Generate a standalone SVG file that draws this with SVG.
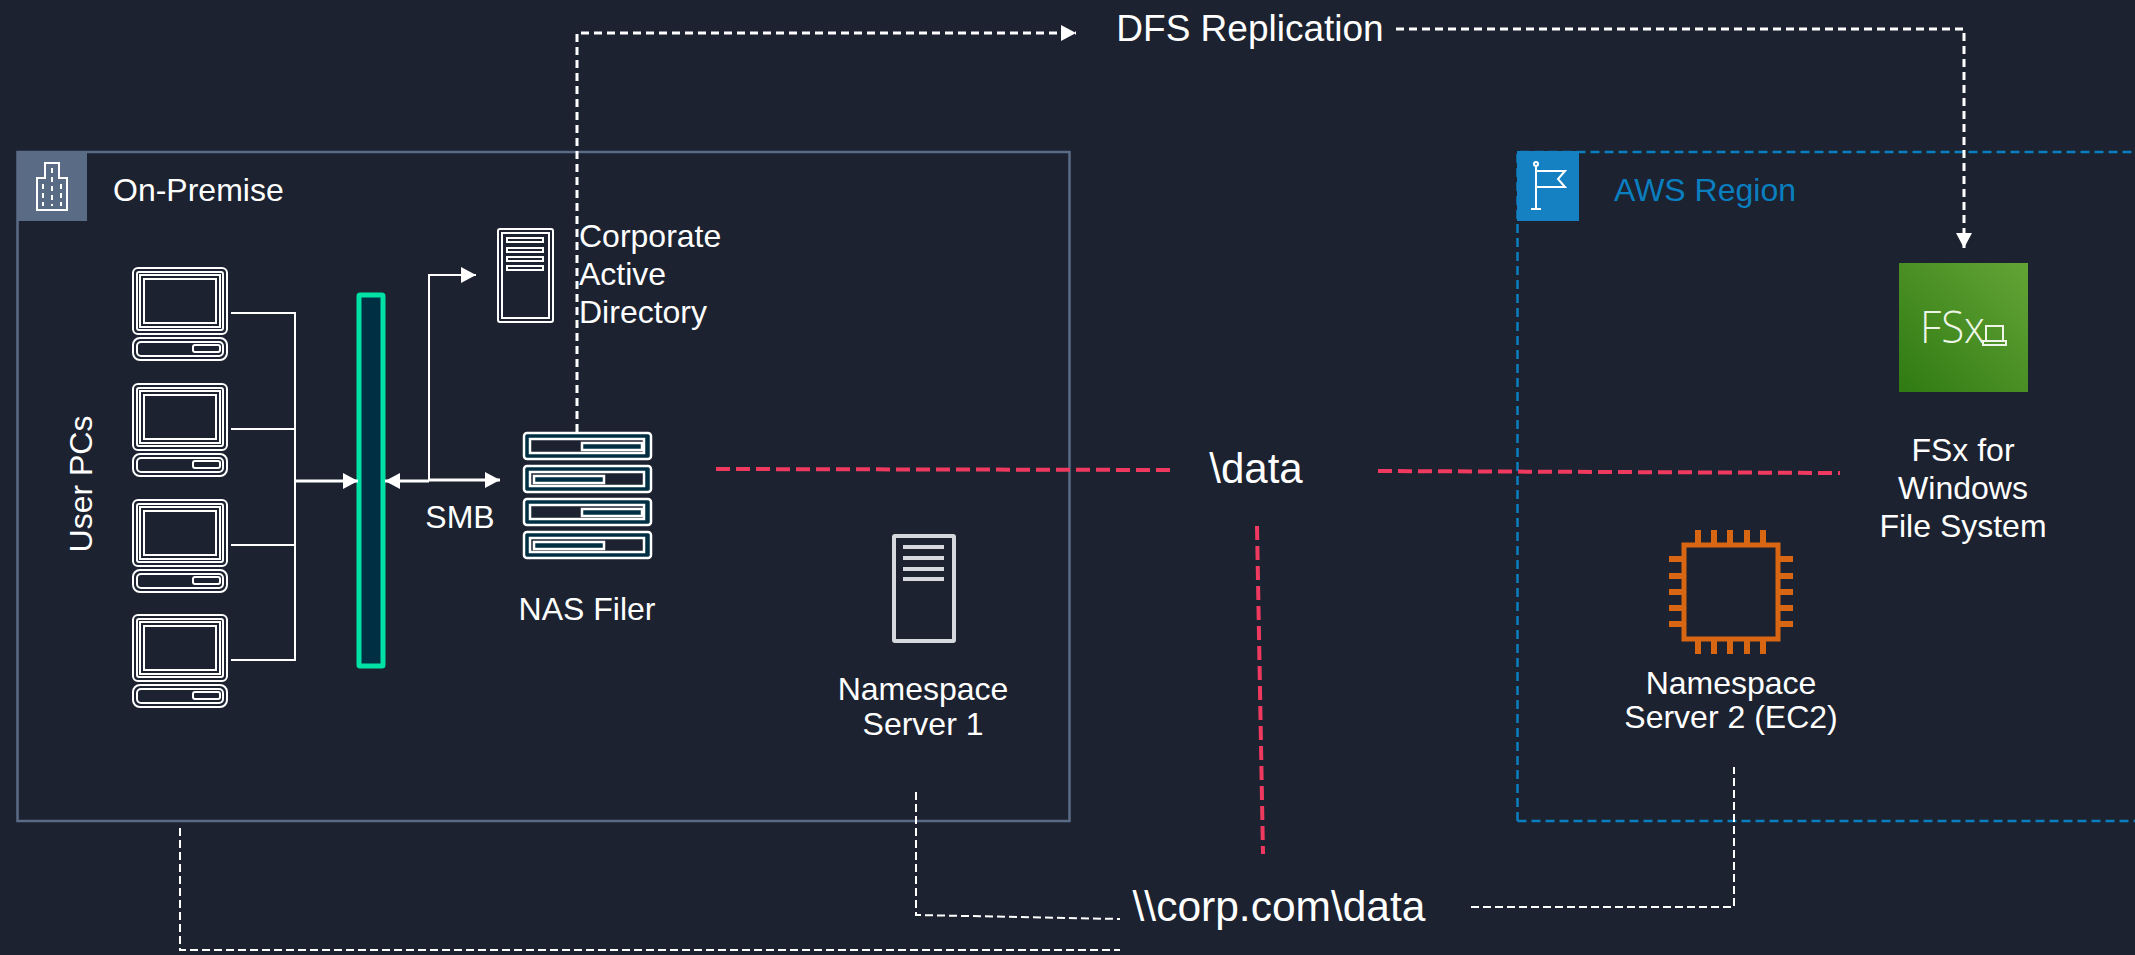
<svg xmlns="http://www.w3.org/2000/svg" width="2135" height="955" viewBox="0 0 2135 955">
<style>
text{font-family:"Liberation Sans",Arial,sans-serif;fill:#fff;font-size:32px}
.c{text-anchor:middle}
.w{fill:none;stroke:#fff;stroke-width:2}
.conn{fill:none;stroke:#fff;stroke-width:3}
.d2{fill:none;stroke:#fff;stroke-width:2;stroke-dasharray:8 4}
.d3{fill:none;stroke:#fff;stroke-width:3;stroke-dasharray:8 5}
.red{fill:none;stroke:#f0395f;stroke-width:4;stroke-dasharray:14 6}
</style>
<defs>
<marker id="ah" markerUnits="userSpaceOnUse" markerWidth="16" markerHeight="16" refX="15" refY="8" orient="auto"><path d="M0 0L15 8L0 16Z" fill="#fff"/></marker>
<g id="pc" class="w">
<rect x="133" y="268" width="94" height="66" rx="5"/>
<rect x="137" y="272" width="86" height="58" rx="2"/>
<rect x="140" y="275" width="80" height="52"/>
<rect x="144" y="279" width="72" height="44"/>
<rect x="133" y="338" width="94" height="22" rx="7"/>
<rect x="137" y="342" width="86" height="14" rx="4"/>
<rect x="193" y="345" width="27" height="7" rx="2"/>
</g>
<linearGradient id="fsx" x1="0" y1="1" x2="1" y2="0"><stop offset="0" stop-color="#2f7a12"/><stop offset="1" stop-color="#64a436"/></linearGradient>
</defs>
<rect width="2135" height="955" fill="#1c2230"/>

<g id="on-premise">
<rect x="17.500" y="152" width="1052" height="669" fill="none" stroke="#5a6b86" stroke-width="2.500"/>
<rect x="17" y="151" width="70" height="70" fill="#5a6b86"/>
<g class="w"><path d="M37 210V178H45V163H59V178H67V210Z"/><path d="M52 168V206M43 184V206M61 184V206" stroke-dasharray="5 4"/></g>
<text x="113" y="201">On-Premise</text>
</g>

<g id="aws-region">
<path d="M1517.500 821V152H2135M1517.500 821H2135" fill="none" stroke="#0a7fc0" stroke-width="2.500" stroke-dasharray="9 5"/>
<rect x="1517" y="151" width="62" height="70" fill="#1580c2"/>
<g class="w"><circle cx="1536" cy="164" r="2"/><path d="M1536 167V209M1531 209H1541M1536 171H1565L1558 179L1565 187H1536"/></g>
<text x="1614" y="201" style="fill:#0a7fc0">AWS Region</text>
</g>

<g id="user-pcs">
<use href="#pc"/>
<use href="#pc" y="116"/>
<use href="#pc" y="232"/>
<use href="#pc" y="347"/>
<text transform="translate(92 484) rotate(-90)" class="c">User PCs</text>
</g>

<g id="switch"><rect x="359" y="295" width="24" height="371" rx="1" fill="#002f43" stroke="#00e2a5" stroke-width="5"/></g>

<g id="ad-server">
<g class="w"><rect x="498" y="229" width="55" height="93" rx="2"/><rect x="502" y="233" width="47" height="85"/>
<rect x="507" y="238" width="36" height="4"/><rect x="507" y="248" width="36" height="4"/><rect x="507" y="257" width="36" height="4"/><rect x="507" y="266" width="36" height="4"/></g>
<text x="579" y="247">Corporate</text><text x="579" y="285">Active</text><text x="579" y="323">Directory</text>
</g>

<g id="nas-filer">
<g fill="#002f43" stroke="#fff" stroke-width="2.500">
<rect x="524" y="433" width="127" height="26" rx="3"/><rect x="524" y="466" width="127" height="26" rx="3"/><rect x="524" y="499" width="127" height="26" rx="3"/><rect x="524" y="532" width="127" height="26" rx="3"/></g>
<g fill="#1c2230" stroke="#fff" stroke-width="2.500">
<rect x="530" y="439" width="114" height="14"/><rect x="530" y="472" width="114" height="14"/><rect x="530" y="505" width="114" height="14"/><rect x="530" y="538" width="114" height="14"/></g>
<g fill="#002f43" stroke="#fff" stroke-width="2.500">
<rect x="582" y="443" width="60" height="7"/><rect x="534" y="476" width="70" height="7"/><rect x="582" y="509" width="60" height="7"/><rect x="534" y="542" width="70" height="7"/></g>
<text x="587" y="620" class="c">NAS Filer</text>
</g>

<g id="namespace-1">
<rect x="894" y="536" width="60" height="105" rx="1" fill="none" stroke="#d5d8dc" stroke-width="4"/>
<path d="M903 547H944M903 558H944M903 569H944M903 579H944" stroke="#d5d8dc" stroke-width="4"/>
<text x="923" y="700" class="c">Namespace</text><text x="923" y="735" class="c">Server 1</text>
</g>

<g id="fsx-node">
<rect x="1899" y="263" width="129" height="129" fill="url(#fsx)"/>
<text x="1920" y="343" style="font-size:45px;font-weight:300;fill:#eef5e8;font-family:'Open Sans',sans-serif" textLength="65" lengthAdjust="spacingAndGlyphs">FSx</text>
<path d="M1986 326H2003V341H1986ZM1983 341H2006V345H1983Z" fill="none" stroke="#eef5e8" stroke-width="2"/>
<text x="1963" y="461" class="c">FSx for</text><text x="1963" y="499" class="c">Windows</text><text x="1963" y="537" class="c">File System</text>
</g>

<g id="namespace-2">
<rect x="1684" y="545" width="94" height="94" fill="none" stroke="#d86613" stroke-width="5"/>
<path d="M1698 530V543M1714 530V543M1730 530V543M1747 530V543M1763 530V543M1698 641V654M1714 641V654M1730 641V654M1747 641V654M1763 641V654M1669 559H1682M1669 576H1682M1669 592H1682M1669 608H1682M1669 624H1682M1780 559H1793M1780 576H1793M1780 592H1793M1780 608H1793M1780 624H1793" stroke="#d86613" stroke-width="6"/>
<text x="1731" y="694" class="c">Namespace</text><text x="1731" y="728" class="c">Server 2 (EC2)</text>
</g>

<g id="dfs-label"><text x="1250" y="41" class="c" style="font-size:37px">DFS Replication</text></g>
<g id="data-label"><text x="1256" y="483" class="c" style="font-size:42px">\data</text></g>
<g id="corp-label"><text x="1279" y="921" class="c" style="font-size:42.500px">\\corp.com\data</text></g>
<g id="smb-label"><text x="460" y="528" class="c">SMB</text></g>

<g id="connectors">
<path class="w" d="M231 313H295V660H231M231 429H295M231 545H295"/>
<path class="conn" d="M295 481H358" marker-end="url(#ah)"/>
<path class="conn" d="M429 481H385" marker-end="url(#ah)"/>
<path class="conn" d="M429 480H500" marker-end="url(#ah)"/>
<path class="w" d="M429 480V275H476" marker-end="url(#ah)"/>
<path class="d3" d="M577 432V33H1076" marker-end="url(#ah)"/>
<path class="d3" d="M1396 29H1964V248" marker-end="url(#ah)"/>
<path class="red" d="M716 469L1171 470"/>
<path class="red" d="M1378 471L1840 473"/>
<path class="red" d="M1257 526L1263 854"/>
<path class="d2" d="M916 792V915L1120 919"/>
<path class="d2" d="M180 828V950H1120"/>
<path class="d2" d="M1471 907H1734V767"/>
</g>
</svg>
